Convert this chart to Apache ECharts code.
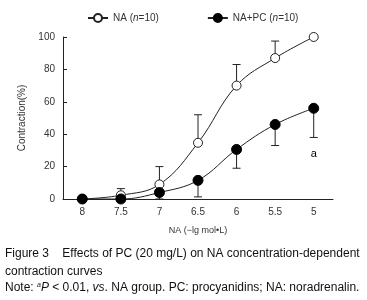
<!DOCTYPE html>
<html><head><meta charset="utf-8">
<script src="https://cdn.jsdelivr.net/npm/echarts@6/dist/echarts.min.js"></script>
<style>html,body{margin:0;padding:0;background:#fff}#c{width:367px;height:300px}</style>
</head><body><div id="c"></div>
<script>
var categories = ['8', '7.5', '7', '6.5', '6', '5.5', '5'];
var naValues = [0, 2.3, 9, 34.7, 70, 87, 100];
var naErrTop = [0, 6.4, 20, 52, 83, 97.5, 100];
var pcValues = [0, 0, 4, 11.5, 30.6, 46, 56];
var pcErrBottom = [0, 0, 0, 1.3, 19, 33, 38];
var yTicks = [0, 20, 40, 60, 80, 100];
var annot = [[6, 28, 'a']];

var chart = echarts.init(document.getElementById('c'), null, {renderer: 'canvas'});
var F = 'Liberation Sans, Arial, sans-serif';
var dark = '#222';

function errData(vals, ends) {
  return vals.map(function (v, i) { return [i, v, ends[i]]; });
}
function errRender(params, api) {
  var i = api.value(0);
  var p0 = api.coord([i, api.value(1)]);
  var p1 = api.coord([i, api.value(2)]);
  if (Math.abs(p1[1] - p0[1]) < 0.5) return null;
  var hw = 4;
  return {
    type: 'group',
    children: [
      {type: 'line', shape: {x1: p0[0], y1: p0[1], x2: p1[0], y2: p1[1]}, style: {stroke: dark, lineWidth: 1}},
      {type: 'line', shape: {x1: p1[0] - hw, y1: p1[1], x2: p1[0] + hw, y2: p1[1]}, style: {stroke: dark, lineWidth: 1}}
    ]
  };
}

var legendRich = {
  a: {fontFamily: F, fontSize: 10, color: '#333'},
  i: {fontFamily: F, fontSize: 10, color: '#333', fontStyle: 'italic'}
};

chart.setOption({
  animation: false,
  backgroundColor: '#fff',
  grid: {left: 63, right: 34, top: 37, bottom: 101, containLabel: false},
  legend: {
    top: 8, left: 82, itemWidth: 20, itemHeight: 10, itemGap: 48,
    data: ['NA', 'NA+PC'],
    formatter: function (n) {
      return n === 'NA' ? '{a|NA (}{i|n}{a|=10)}' : '{a|NA+PC (}{i|n}{a|=10)}';
    },
    textStyle: {rich: legendRich, fontSize: 10}
  },
  xAxis: {
    type: 'category', data: categories, boundaryGap: true,
    name: 'NA (\u2212lg mol\u2022L)', nameLocation: 'middle', nameGap: 27,
    nameTextStyle: {fontFamily: F, fontSize: 9, color: '#333'},
    axisLine: {lineStyle: {color: dark, width: 1}},
    axisTick: {inside: true, length: 4, lineStyle: {color: dark}},
    axisLabel: {fontFamily: F, fontSize: 10, color: '#333', margin: 8}
  },
  yAxis: {
    type: 'value', min: 0, max: 100, interval: 20,
    name: 'Contraction(%)', nameLocation: 'middle', nameGap: 36,
    nameTextStyle: {fontFamily: F, fontSize: 10, color: '#333'},
    axisLine: {show: true, lineStyle: {color: dark, width: 1}},
    axisTick: {show: true, inside: true, length: 4, lineStyle: {color: dark}},
    axisLabel: {fontFamily: F, fontSize: 10, color: '#333', margin: 8,
      formatter: function (v) { return yTicks.indexOf(v) >= 0 ? String(v) : ''; }},
    splitLine: {show: false}
  },
  series: [
    {type: 'custom', name: 'errNA', renderItem: errRender, data: errData(naValues, naErrTop), z: 1, silent: true},
    {type: 'custom', name: 'errPC', renderItem: errRender, data: errData(pcValues, pcErrBottom), z: 1, silent: true},
    {
      type: 'line', name: 'NA', data: naValues, smooth: 0.4, symbol: 'circle', symbolSize: 9,
      lineStyle: {color: dark, width: 1}, itemStyle: {color: '#fff', borderColor: dark, borderWidth: 1}, z: 3
    },
    {
      type: 'line', name: 'NA+PC', data: pcValues, smooth: 0.4, symbol: 'circle', symbolSize: 10,
      lineStyle: {color: dark, width: 1}, itemStyle: {color: '#000', borderColor: '#000', borderWidth: 1}, z: 3
    },
    {
      type: 'scatter', name: 'annot', data: annot, symbolSize: 1, silent: true,
      itemStyle: {color: 'rgba(0,0,0,0)'},
      label: {show: true, position: 'inside', formatter: function (p) { return p.data[2]; },
        fontFamily: F, fontSize: 11, color: '#000', opacity: 1, textBorderWidth: 0}
    }
  ],
  graphic: [
    {type: 'text', left: 5, top: 248, style: {text: 'Figure 3    Effects of PC (20 mg/L) on NA concentration-dependent', fontFamily: F, fontSize: 12, fill: '#111'}},
    {type: 'text', left: 5, top: 266, style: {text: 'contraction curves', fontFamily: F, fontSize: 12, fill: '#111'}},
    {type: 'text', left: 5, top: 282, style: {
      text: '{n|Note: }{s|a}{i|P}{n| < 0.01, }{i|vs}{n|. NA group. PC: procyanidins; NA: noradrenalin.}',
      rich: {
        n: {fontFamily: F, fontSize: 12, fill: '#111'},
        i: {fontFamily: F, fontSize: 12, fill: '#111', fontStyle: 'italic'},
        s: {fontFamily: F, fontSize: 7, fill: '#111', fontStyle: 'italic', verticalAlign: 'top'}
      }
    }}
  ]
});
</script></body></html>
